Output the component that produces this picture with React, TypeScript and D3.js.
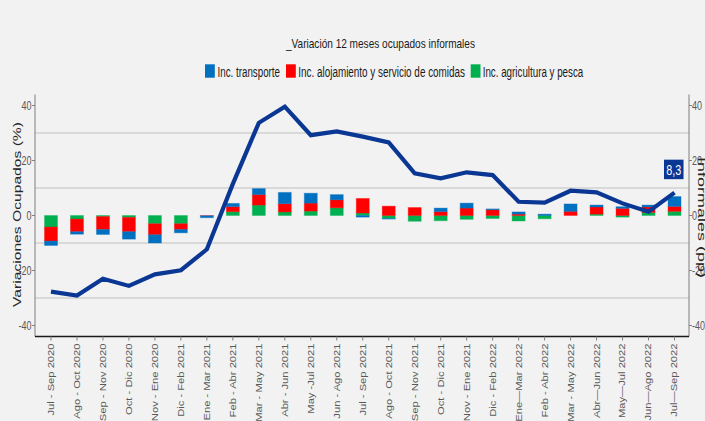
import React from "react";
import * as d3 from "d3";

const categories = [
  "Jul - Sep 2020", "Ago - Oct 2020", "Sep - Nov 2020", "Oct - Dic 2020", "Nov - Ene 2020",
  "Dic - Feb 2021", "Ene - Mar 2021", "Feb - Abr 2021", "Mar - May 2021", "Abr - Jun 2021",
  "May -Jul 2021", "Jun - Ago 2021", "Jul - Sep 2021", "Ago - Oct 2021", "Sep - Nov 2021",
  "Oct - Dic 2021", "Nov - Ene 2021", "Dic - Feb 2022", "Ene—Mar 2022", "Feb - Abr 2022",
  "Mar - May 2022", "Abr—Jun 2022", "May—Jul 2022", "Jun—Ago 2022", "Jul—Sep 2022",
];

const agricultura = [-4.2, -1.3, -0.4, -0.7, -3.0, -3.0, 0, 1.4, 3.8, 1.3, 1.6, 2.8, 0.9, -1.1, -2.1, -1.9, -1.4, -1.1, -2.0, -1.2, 0, 0.5, -0.6, 1.1, 1.5];
const alojamiento = [-5.1, -4.6, -4.7, -5.2, -4.0, -2.1, -0.1, 1.8, 3.8, 3.0, 2.9, 2.9, 5.3, 3.4, 2.9, 1.4, 2.7, 2.1, 0.5, 0, 1.5, 2.6, 2.6, 2.0, 1.8];
const transporte = [-1.6, -0.9, -1.8, -2.7, -3.0, -1.2, -0.7, 1.2, 2.2, 4.1, 3.6, 1.9, -0.6, -0.2, 0, 1.3, 1.8, 0.3, 0.8, 0.5, 2.7, 0.7, 0.6, 0.7, 3.6];
const informales = [-27.7, -29.1, -23.0, -25.6, -21.4, -19.9, -12.3, 11.5, 33.7, 39.6, 29.2, 30.6, 28.7, 26.6, 15.3, 13.5, 15.7, 14.7, 5.0, 4.7, 9.0, 8.4, 4.4, 1.4, 8.3];

const yTicks = [-40, -20, 0, 20, 40];
const gridValues = [-30, -10, 10, 30];
const titleText = "_Variación 12 meses ocupados informales";
const leftTitle = "Variaciones Ocupados (%)";
const rightTitle = "Informales (pp)";
const seriesKeys = ["agricultura", "alojamiento", "transporte"];
const legendNames = ["Inc. transporte", "Inc. alojamiento y servicio de comidas", "Inc. agricultura y pesca"];
const lastLabel = "8,3";

const COLORS: Record<string, string> = {
  transporte: "#0070C0",
  alojamiento: "#FF0000",
  agricultura: "#00B050",
};
const LINE = "#0A3694";
const FONT = "'Liberation Sans', Arial, sans-serif";

export default function App() {
  const W = 705, H = 421;
  const left = 35, right = 689, top = 94.5, bottom = 336.5;
  const x = d3.scaleBand<string>().domain(categories).range([38, 687.5]).paddingInner(0.5).paddingOuter(0.25);
  const y = d3.scaleLinear().domain([-44, 44]).range([bottom, top]);
  const rows = categories.map((c, i) => ({ cat: c, agricultura: agricultura[i], alojamiento: alojamiento[i], transporte: transporte[i] }));
  const stacked = d3.stack<any>().keys(seriesKeys).offset(d3.stackOffsetDiverging).order(d3.stackOrderNone)(rows);
  const cx = (c: string) => (x(c) as number) + x.bandwidth() / 2;
  const line = d3.line<number>().x((_, i) => cx(categories[i])).y((d) => y(d));
  const lastCat = categories[categories.length - 1];
  const lastVal = informales[informales.length - 1];

  const legendLayout = [
    { key: "transporte", sx: 205, tx: 217.5, tl: 62.5 },
    { key: "alojamiento", sx: 286, tx: 298.3, tl: 166.7 },
    { key: "agricultura", sx: 470.7, tx: 482.7, tl: 100.6 },
  ];

  return (
    <>
      <style>{"body{margin:0}"}</style>
      <svg width={W} height={H} style={{ display: "block", fontFamily: FONT }}>
        <rect x={0} y={0} width={W} height={H} fill="#F2F2F2" />
        {gridValues.map((g) => (
          <line key={g} x1={left} x2={right} y1={y(g)} y2={y(g)} stroke="#BFBFBF" strokeWidth={1.2} />
        ))}
        {stacked.map((s) => (
          <g key={s.key} fill={COLORS[s.key]} stroke={COLORS[s.key]} strokeOpacity={0.35} strokeWidth={1}>
            {s.map((d, i) => {
              const y0 = y(d[0]), y1 = y(d[1]);
              const h = Math.abs(y0 - y1);
              if (h < 0.01) return null;
              return <rect key={i} x={x(categories[i])} width={x.bandwidth()} y={Math.min(y0, y1)} height={h} />;
            })}
          </g>
        ))}
        <path d={line(informales) || ""} fill="none" stroke={LINE} strokeWidth={4.2} strokeLinejoin="miter" />
        <rect x={cx(lastCat) - 10.5} y={y(lastVal) - 33} width={19.5} height={19.5} fill={LINE} />
        <text x={cx(lastCat) - 0.75} y={y(lastVal) - 17.5} fill="#fff" fontSize={15} textAnchor="middle" textLength={15} lengthAdjust="spacingAndGlyphs">{lastLabel}</text>

        {/* axes */}
        <line x1={left} x2={left} y1={top} y2={bottom} stroke="#7F7F7F" strokeWidth={1} />
        <line x1={right} x2={right} y1={top} y2={bottom} stroke="#7F7F7F" strokeWidth={1} />
        <line x1={left} x2={right} y1={bottom} y2={bottom} stroke="#1A1A1A" strokeWidth={1.3} />
        {yTicks.map((t) => (
          <g key={t}>
            <line x1={left - 3} x2={left} y1={y(t)} y2={y(t)} stroke="#7F7F7F" />
            <line x1={right} x2={right + 3} y1={y(t)} y2={y(t)} stroke="#7F7F7F" />
            <text transform={`translate(${left - 3.5},${y(t) + 4.3}) scale(0.72,1)`} fontSize={12.5} fill="#595959" textAnchor="end">{t}</text>
            <text transform={`translate(${right + 3},${y(t) + 4.3}) scale(0.72,1)`} fontSize={12.5} fill="#595959" textAnchor="start">{t}</text>
          </g>
        ))}
        {categories.map((c) => (
          <g key={c}>
            <line x1={cx(c)} x2={cx(c)} y1={bottom} y2={bottom + 4} stroke="#7F7F7F" />
            <text transform={`translate(${cx(c)},${bottom + 7}) rotate(-90) scale(1,0.75)`} fontSize={11.2} fill="#595959" textAnchor="end" dy="0.35em">{c}</text>
          </g>
        ))}

        {/* titles */}
        <text transform={`translate(17.5,${(122 + 307) / 2}) rotate(-90) scale(1,0.72)`} fontSize={15} fill="#262626" textAnchor="middle" dy="0.35em" textLength={185} lengthAdjust="spacingAndGlyphs">{leftTitle}</text>
        <text transform={`translate(698,157) rotate(90) scale(1,0.72)`} fontSize={15} fill="#262626" textAnchor="start" textLength={121} lengthAdjust="spacingAndGlyphs">{rightTitle}</text>
        <text x={286} y={48} fontSize={13} fill="#1A1A1A" textLength={189} lengthAdjust="spacingAndGlyphs">{titleText}</text>

        {/* legend */}
        {legendLayout.map((l, i) => (
          <g key={l.key}>
            <rect x={l.sx} y={64.3} width={9.8} height={13.4} fill={COLORS[l.key]} />
            <text x={l.tx} y={76.8} fontSize={14} fill="#1A1A1A" textLength={l.tl} lengthAdjust="spacingAndGlyphs">{legendNames[i]}</text>
          </g>
        ))}
      </svg>
    </>
  );
}
